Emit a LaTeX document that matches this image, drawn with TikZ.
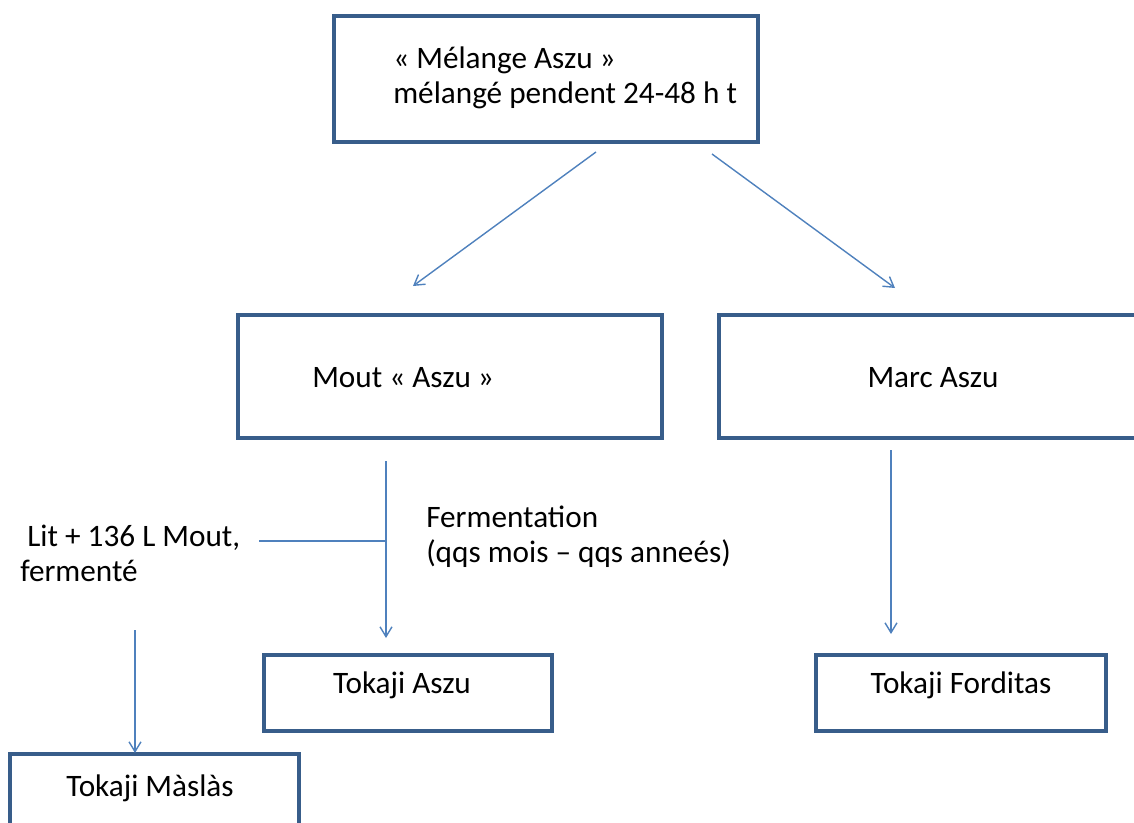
\documentclass[tikz,border=0pt]{standalone}
\usepackage{fontspec}
\setmainfont{Carlito}
\usetikzlibrary{arrows.meta}
\definecolor{boxblue}{HTML}{385D8A}
\definecolor{lineblue}{HTML}{4F81BD}

\begin{document}
\begin{tikzpicture}[x=0.025cm,y=-0.025cm,
        font=\fontsize{22.2}{24.8}\selectfont,
        box/.style={draw=boxblue,line width=2.5pt,inner sep=0pt},
        txt/.style={inner sep=0pt,align=left},
        flow/.style={lineblue,line width=1pt,-{Straight Barb[length=7pt,width=8.5pt]}}]

    \useasboundingbox (0,0) rectangle (1134,823);

    % boxes
    \node[box, minimum width=10.6cm, minimum height=3.15cm] (mix) at (546,79) {};
    \node[box, minimum width=10.6cm, minimum height=3.075cm] (mout) at (450,376.5) {};
    \node[box, minimum width=10.7cm, minimum height=3.075cm] (marc) at (933,376.5) {};
    \node[box, minimum width=7.2cm, minimum height=1.9cm] (aszu) at (408,693) {};
    \node[box, minimum width=7.25cm, minimum height=1.9cm] (ford) at (961,693) {};
    \node[box, minimum width=7.225cm, minimum height=1.9cm] (masl) at (154.5,792) {};

    % texts
    \node[txt, anchor=west] (mixtxt) at (393,77.5) {« Mélange Aszu »\\mélangé pendent 24-48 h t};
    \node[txt, anchor=west] (moutxt) at (312,378) {Mout « Aszu »};
    \node[txt] (marctxt) at (933,378) {Marc Aszu};
    \node[txt, anchor=west] (littxt) at (20,553) {~Lit + 136 L Mout,\\fermenté};
    \node[txt, anchor=west] (fermtxt) at (426,536.5) {Fermentation\\(qqs mois – qqs anneés)};
    \node[txt] (aszutxt) at (402,685) {Tokaji Aszu};
    \node[txt] (fordtxt) at (961,685) {Tokaji Forditas};
    \node[txt] (masltxt) at (150,788) {Tokaji Màslàs};

    % connector ends
    \coordinate (mixL) at (596,152);
    \coordinate (moutT) at (413,286);
    \coordinate (mixR) at (712,154);
    \coordinate (marcT) at (895,288);
    \coordinate (moutB) at (386,461);
    \coordinate (aszuT) at (386,638);
    \coordinate (join) at (386,541);
    \coordinate (litR) at (259,541);
    \coordinate (litB) at (135,630);
    \coordinate (maslT) at (135,753);
    \coordinate (marcB) at (891,450);
    \coordinate (fordT) at (891,634);

    \path[flow]
    (mixL) edge (moutT)
    (mixR) edge (marcT)
    (moutB) edge (aszuT)
    (litR) edge[-] (join)
    (litB) edge (maslT)
    (marcB) edge (fordT);

\end{tikzpicture}
\end{document}
